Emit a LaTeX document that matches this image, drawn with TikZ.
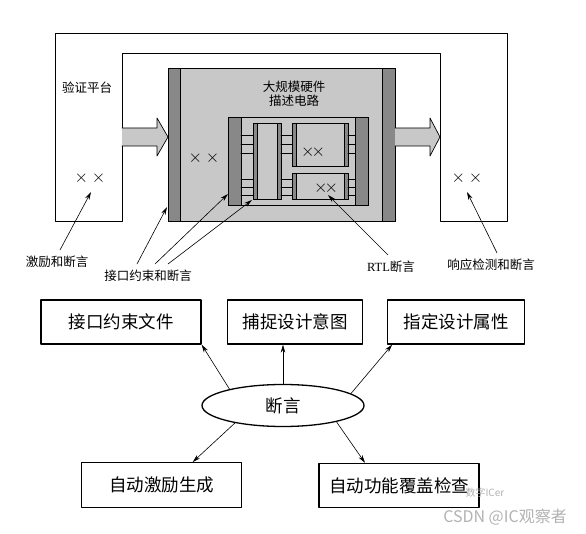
\documentclass[tikz,border=0pt]{standalone}
\usepackage{fontspec}
\setmainfont{Liberation Serif}
\newfontfamily\cjk{Noto Sans CJK SC}
\usetikzlibrary{arrows.meta, shapes.geometric}

\definecolor{boxgray}{RGB}{200,200,200}
\definecolor{stripgray}{RGB}{136,136,136}
\definecolor{markgray}{RGB}{178,178,178}

\begin{document}
\begin{tikzpicture}[x=1pt, y=-1pt, line join=round, line cap=round,
    thinline/.style={line width=0.7pt},
    ptr/.style={-{Stealth[length=8pt, width=4.5pt]}, line width=0.6pt},
    smalltext/.style={font=\cjk\fontsize{12.5}{14}\selectfont, inner sep=6pt},
    crosses/.style={font=\fontsize{16}{16}\selectfont, inner sep=0pt},
    graybox/.style={thinline, draw=black, fill=boxgray},
    stripfill/.style={thinline, draw=black, fill=stripgray},
    goal/.style={draw, line width=1.3pt, minimum height=44pt, inner sep=2pt,
        font=\cjk\fontsize{17.5}{20}\selectfont}]
    \useasboundingbox (0,0) rectangle (586,534);

    % 1. 验证平台 (Testbench frame)
    \draw[thinline] (55,33) -- (507,33) -- (507,221) -- (440,221) -- (440,53)
        -- (122,53) -- (122,221) -- (55,221) -- cycle;
    \node[smalltext, anchor=west, inner sep=0pt] (tb) at (62,88) {验证平台};

    % 2. 大规模硬件描述电路 (DUT box)
    \draw[graybox] (168,68) rectangle (395,221);
    \draw[stripfill] (168,68) rectangle (180,221);
    \draw[stripfill] (382,68) rectangle (395,221);
    \node[smalltext, align=center, inner sep=0pt] (dut) at (294,94) {大规模硬件\\描述电路};

    % 3. 粗箭头 (Block arrows)
    \draw[thinline, fill=boxgray] (122,128) -- (157,128) -- (157,118) -- (168,137)
        -- (157,156) -- (157,146) -- (122,146);
    \draw[thinline, fill=boxgray] (395,128) -- (430,128) -- (430,118) -- (440,137)
        -- (430,156) -- (430,146) -- (395,146);

    % 4. 内部模块 (Inner block and modules)
    \draw[graybox] (228,117) rectangle (368,205);
    \draw[stripfill] (228,117) rectangle (241,205);
    \draw[stripfill] (355,117) rectangle (368,205);
    \foreach \xa/\ya/\xb/\yb in {253/123/281/199, 292/123/348/166, 292/173/348/199} {
        \draw[graybox] (\xa,\ya) rectangle (\xb,\yb);
        \draw[stripfill] (\xa,\ya) rectangle (\xa+4,\yb);
        \draw[stripfill] (\xb-4,\ya) rectangle (\xb,\yb);
    }
    % 引脚 (pins)
    \foreach \y in {135,144,153,179,187,195}
        \draw[thinline] (241,\y) -- (253,\y) (281,\y) -- (292,\y) (348,\y) -- (355,\y);

    % 5. 断言标记 (Assertion marks)
    \node[crosses] (xtb) at (90,178) {$\times\ \times$};
    \node[crosses] (xdut) at (204,158) {$\times\ \times$};
    \node[crosses] (xtop) at (313,152) {$\times\!\times$};
    \node[crosses] (xbot) at (326,188) {$\times\!\times$};
    \node[crosses] (xresp) at (467,178) {$\times\ \times$};

    \coordinate (stimtip) at (91,192);
    \coordinate (duttip) at (167,207);
    \coordinate (inntip) at (228,194);
    \coordinate (modtip) at (252,200);
    \coordinate (rtltip) at (328,195);
    \coordinate (resptip) at (467,192);

    % 6. 标签 (Labels)
    \node[smalltext] (stim) at (57,262) {激励和断言};
    \node[smalltext] (iface) at (148,276) {接口约束和断言};
    \node[smalltext] (rtl) at (391,267) {{\rmfamily RTL}断言};
    \node[smalltext] (resp) at (491,265) {响应检测和断言};

    \draw[ptr] ([xshift=3pt]stim.north) -- (stimtip);
    \draw[ptr] ([xshift=-11pt]iface.north) -- (duttip);
    \draw[ptr] ([xshift=7pt]iface.north) -- (inntip);
    \draw[ptr] ([xshift=20pt]iface.north) -- (modtip);
    \draw[ptr] ([xshift=-3pt]rtl.north) -- (rtltip);
    \draw[ptr] ([xshift=6pt]resp.north) -- (resptip);

    % 7. 断言的用途 (Uses of assertions)
    \node[goal, minimum width=160pt] (spec) at (121,322) {接口约束文件};
    \node[goal, minimum width=135pt] (intent) at (295.3,322) {捕捉设计意图};
    \node[goal, minimum width=137pt] (prop) at (456.3,322) {指定设计属性};
    \node[ellipse, draw, line width=1.3pt, minimum width=162pt, minimum height=42pt,
        inner sep=0pt, font=\cjk\fontsize{17.5}{20}\selectfont] (assert) at (283,405.5) {断言};
    \node[goal, minimum width=160pt, minimum height=45pt] (stimgen) at (161.7,485.2) {自动激励生成};
    \node[goal, minimum width=160pt] (cover) at (399,485.5) {自动功能覆盖检查};

    \draw[ptr] (assert.163) -- (spec.south east);
    \draw[ptr] (assert.north) -- (assert.north |- intent.south);
    \draw[ptr] (assert.10) -- ([xshift=5pt]prop.south west);
    \draw[ptr] (assert.200) -- ([xshift=31pt]stimgen.north);
    \draw[ptr] (assert.343) -- ([xshift=-34pt]cover.north);

    % 水印 (Watermarks)
    \node[font=\cjk\fontsize{10}{12}\selectfont, text=markgray, anchor=west] (wm) at (462,493) {数字ICer};
    \node[font=\cjk\fontsize{16}{18}\selectfont, text=markgray] (csdn) at (505,517) {CSDN @IC观察者};
\end{tikzpicture}
\end{document}
